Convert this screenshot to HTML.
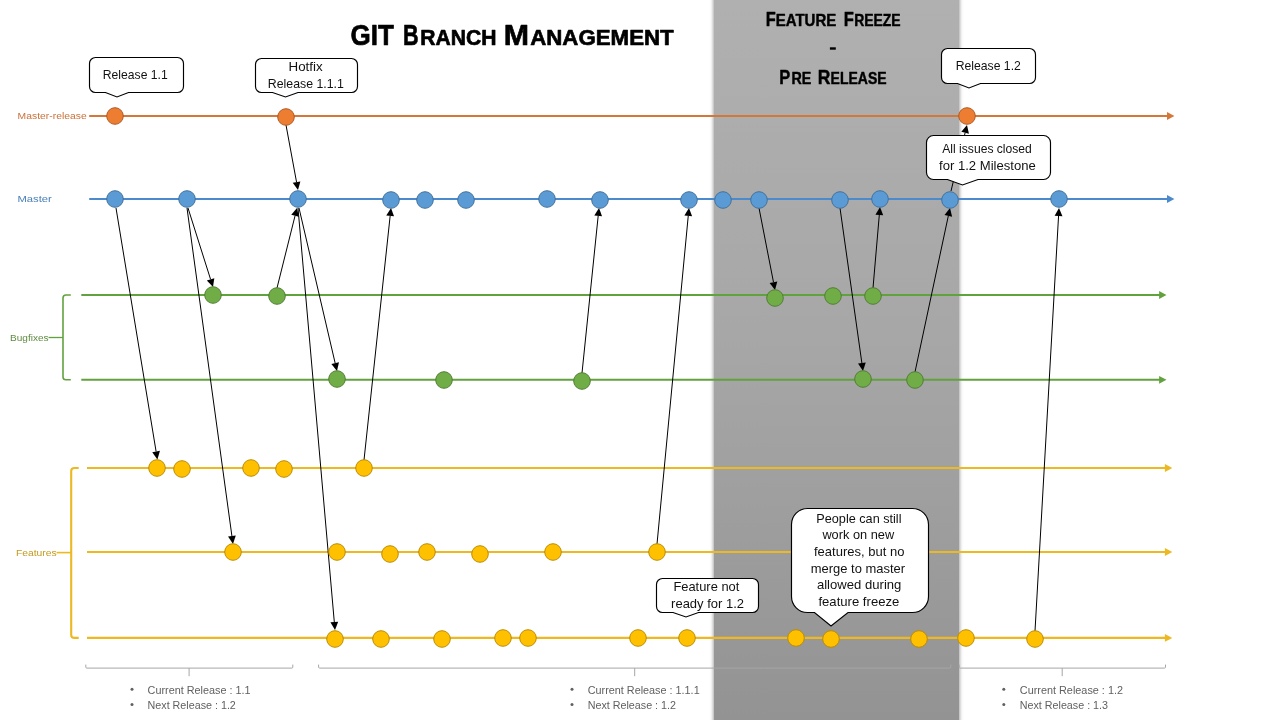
<!DOCTYPE html>
<html lang="en">
<head>
<meta charset="utf-8">
<title>GIT Branch Management</title>
<style>
html,body{margin:0;padding:0;background:#fff;}
body{width:1280px;height:720px;overflow:hidden;position:relative;font-family:"Liberation Sans",sans-serif;}
#band{position:absolute;left:713.6px;top:-10px;width:245.6px;height:740px;
  background:linear-gradient(to bottom,#b0b0b0 1.35%,#a7a7a7 46.6%,#9e9e9e 71%,#939393 98.65%);
  box-shadow:0 0 3px 0.6px rgba(110,110,110,0.6);}
svg{position:absolute;left:0;top:0;will-change:transform;}
text{font-family:"Liberation Sans",sans-serif;}
</style>
</head>
<body>
<div id="band"></div>
<svg width="1280" height="720" viewBox="0 0 1280 720">

<g id="title" fill="#000">
<text transform="translate(350.49,44.9) scale(0.8713,1)" font-size="29.849999999999998" font-weight="bold" stroke="#000" stroke-width="0.7" stroke-linejoin="round">GIT</text>
<text transform="translate(402.90,44.9) scale(0.7233,1)" font-size="29.849999999999998" font-weight="bold" stroke="#000" stroke-width="0.7" stroke-linejoin="round">B</text>
<text transform="translate(420.31,44.9) scale(0.9271,1)" font-size="22.75" font-weight="bold" stroke="#000" stroke-width="0.7" stroke-linejoin="round">RANCH</text>
<text transform="translate(503.76,44.9) scale(1.0156,1)" font-size="29.849999999999998" font-weight="bold" stroke="#000" stroke-width="0.7" stroke-linejoin="round">M</text>
<text transform="translate(530.19,44.9) scale(0.9794,1)" font-size="22.75" font-weight="bold" stroke="#000" stroke-width="0.7" stroke-linejoin="round">ANAGEMENT</text>
</g>
<g id="ff" fill="#000">
<text transform="translate(765.75,26.0) scale(0.7803,1)" font-size="21.0" font-weight="bold" stroke="#000" stroke-width="0.45" stroke-linejoin="round">F</text>
<text transform="translate(775.67,26.0) scale(0.9442,1)" font-size="15.9" font-weight="bold" stroke="#000" stroke-width="0.45" stroke-linejoin="round">EATURE</text>
<text transform="translate(843.64,26.0) scale(0.7891,1)" font-size="21.0" font-weight="bold" stroke="#000" stroke-width="0.45" stroke-linejoin="round">F</text>
<text transform="translate(854.13,26.0) scale(0.8780,1)" font-size="15.9" font-weight="bold" stroke="#000" stroke-width="0.45" stroke-linejoin="round">REEZE</text>
<text transform="translate(779.34,83.7) scale(0.7863,1)" font-size="21.0" font-weight="bold" stroke="#000" stroke-width="0.45" stroke-linejoin="round">P</text>
<text transform="translate(791.51,83.7) scale(0.8994,1)" font-size="15.9" font-weight="bold" stroke="#000" stroke-width="0.45" stroke-linejoin="round">RE</text>
<text transform="translate(817.69,83.7) scale(0.8343,1)" font-size="21.0" font-weight="bold" stroke="#000" stroke-width="0.45" stroke-linejoin="round">R</text>
<text transform="translate(830.62,83.7) scale(0.8795,1)" font-size="15.9" font-weight="bold" stroke="#000" stroke-width="0.45" stroke-linejoin="round">ELEASE</text>
<rect x="829.9" y="47.3" width="5.9" height="2.4" fill="#000"/>
</g>
<g id="branches">
<line x1="89.2" y1="116.0" x2="1168.4" y2="116.0" stroke="#D47839" stroke-width="2.0"/>
<polygon points="1174.4,116.0 1167.0,112.1 1167.0,119.9" fill="#D47839"/>
<line x1="89.2" y1="199.0" x2="1168.4" y2="199.0" stroke="#4B8ACC" stroke-width="2.0"/>
<polygon points="1174.4,199.0 1167.0,195.1 1167.0,202.9" fill="#4B8ACC"/>
<line x1="81.3" y1="295.0" x2="1160.5" y2="295.0" stroke="#62A23E" stroke-width="2.0"/>
<polygon points="1166.5,295.0 1159.1,291.1 1159.1,298.9" fill="#62A23E"/>
<line x1="81.3" y1="379.8" x2="1160.5" y2="379.8" stroke="#62A23E" stroke-width="2.0"/>
<polygon points="1166.5,379.8 1159.1,375.9 1159.1,383.7" fill="#62A23E"/>
<line x1="87.0" y1="468.0" x2="1166.3" y2="468.0" stroke="#EDB922" stroke-width="2.1"/>
<polygon points="1172.3,468.0 1164.9,464.1 1164.9,471.9" fill="#EDB922"/>
<line x1="87.0" y1="552.0" x2="1166.3" y2="552.0" stroke="#EDB922" stroke-width="2.1"/>
<polygon points="1172.3,552.0 1164.9,548.1 1164.9,555.9" fill="#EDB922"/>
<line x1="87.0" y1="637.9" x2="1166.3" y2="637.9" stroke="#EDB922" stroke-width="2.1"/>
<polygon points="1172.3,637.9 1164.9,634.0 1164.9,641.8" fill="#EDB922"/>
</g>
<g id="brackets" fill="none">
<path d="M70.8,295 H66 Q63,295 63,298 V377 Q63,379.8 66,379.8 H70.8" stroke="#62A23E" stroke-width="1.6"/>
<path d="M63,337.5 H48.5" stroke="#62A23E" stroke-width="1.3"/>
<path d="M78.7,468 H74.5 Q71.2,468 71.2,471 V635 Q71.2,637.9 74.5,637.9 H78.7" stroke="#EDB922" stroke-width="2.1"/>
<path d="M71.2,552.6 H56.6" stroke="#EDB922" stroke-width="1.6"/>
</g>
<g id="labels">
<text transform="translate(17.59,118.85) scale(1.0577,1)" font-size="9.8" fill="#C8713A">Master-release</text>
<text transform="translate(17.52,201.7) scale(1.1463,1)" font-size="9.8" fill="#4A80BA">Master</text>
<text transform="translate(10.01,340.9) scale(1.0270,1)" font-size="9.8" fill="#5E8C40">Bugfixes</text>
<text transform="translate(15.89,555.9) scale(1.0558,1)" font-size="9.8" fill="#C29A1E">Features</text>
</g>
<g id="bbr" fill="none" stroke="#A6A6A6" stroke-width="1">
<path d="M85.8,664.6 V667.1 Q85.8,668.1 86.8,668.1 H291.8 Q292.8,668.1 292.8,667.1 V664.6 M189.1,668.1 V676.2"/>
<path d="M318.6,664.6 V667.1 Q318.6,668.1 319.6,668.1 H949.8 Q950.8,668.1 950.8,667.1 V664.6 M634.7,668.1 V676.2"/>
<path d="M959.2,664.6 V667.1 Q959.2,668.1 960.2,668.1 H1164.5 Q1165.5,668.1 1165.5,667.1 V664.6 M1062.2,668.1 V676.2"/>
</g>
<g id="btext" fill="#606060">
<text transform="translate(147.59,693.6) scale(0.9856,1)" font-size="11">Current Release : 1.1</text>
<text transform="translate(147.56,708.9) scale(0.9766,1)" font-size="11">Next Release : 1.2</text>
<text transform="translate(587.69,693.6) scale(0.9861,1)" font-size="11">Current Release : 1.1.1</text>
<text transform="translate(587.66,708.9) scale(0.9777,1)" font-size="11">Next Release : 1.2</text>
<text transform="translate(1019.79,693.6) scale(0.9885,1)" font-size="11">Current Release : 1.2</text>
<text transform="translate(1019.76,708.9) scale(0.9766,1)" font-size="11">Next Release : 1.3</text>
<circle cx="132" cy="689.3" r="1.5"/><circle cx="132" cy="704.6" r="1.5"/>
<circle cx="572" cy="689.3" r="1.5"/><circle cx="572" cy="704.6" r="1.5"/>
<circle cx="1003.8" cy="689.3" r="1.5"/><circle cx="1003.8" cy="704.6" r="1.5"/>
</g>
<g id="arrows">
<line x1="286" y1="125" x2="296.55" y2="182.13" stroke="#000" stroke-width="1.0"/><polygon points="298.00,190.00 292.71,182.84 300.38,181.42" fill="#000"/>
<line x1="116" y1="208" x2="156.10" y2="451.51" stroke="#000" stroke-width="1.0"/><polygon points="157.40,459.40 152.25,452.14 159.95,450.87" fill="#000"/>
<line x1="188" y1="208" x2="210.59" y2="279.37" stroke="#000" stroke-width="1.0"/><polygon points="213.00,287.00 206.87,280.55 214.30,278.20" fill="#000"/>
<line x1="187" y1="208" x2="231.91" y2="536.07" stroke="#000" stroke-width="1.0"/><polygon points="233.00,544.00 228.05,536.60 235.78,535.54" fill="#000"/>
<line x1="277" y1="288" x2="295.06" y2="215.76" stroke="#000" stroke-width="1.0"/><polygon points="297.00,208.00 298.84,216.71 291.28,214.82" fill="#000"/>
<line x1="299" y1="208" x2="335.18" y2="363.21" stroke="#000" stroke-width="1.0"/><polygon points="337.00,371.00 331.39,364.09 338.98,362.32" fill="#000"/>
<line x1="298" y1="208" x2="334.30" y2="622.03" stroke="#000" stroke-width="1.0"/><polygon points="335.00,630.00 330.42,622.37 338.19,621.69" fill="#000"/>
<line x1="364" y1="460" x2="390.15" y2="215.95" stroke="#000" stroke-width="1.0"/><polygon points="391.00,208.00 394.03,216.37 386.27,215.54" fill="#000"/>
<line x1="582" y1="373" x2="598.18" y2="215.96" stroke="#000" stroke-width="1.0"/><polygon points="599.00,208.00 602.06,216.36 594.30,215.56" fill="#000"/>
<line x1="657" y1="544" x2="688.24" y2="215.96" stroke="#000" stroke-width="1.0"/><polygon points="689.00,208.00 692.12,216.33 684.36,215.59" fill="#000"/>
<line x1="759" y1="208" x2="773.47" y2="282.15" stroke="#000" stroke-width="1.0"/><polygon points="775.00,290.00 769.64,282.89 777.30,281.40" fill="#000"/>
<line x1="840" y1="208" x2="861.88" y2="363.08" stroke="#000" stroke-width="1.0"/><polygon points="863.00,371.00 858.02,363.62 865.74,362.53" fill="#000"/>
<line x1="873" y1="288" x2="879.31" y2="214.97" stroke="#000" stroke-width="1.0"/><polygon points="880.00,207.00 883.20,215.31 875.43,214.63" fill="#000"/>
<line x1="915" y1="372" x2="948.33" y2="215.82" stroke="#000" stroke-width="1.0"/><polygon points="950.00,208.00 952.14,216.64 944.52,215.01" fill="#000"/>
<line x1="951" y1="191" x2="965.12" y2="132.77" stroke="#000" stroke-width="1.0"/><polygon points="967.00,125.00 968.91,133.69 961.32,131.86" fill="#000"/>
<line x1="1035" y1="631" x2="1058.55" y2="215.99" stroke="#000" stroke-width="1.0"/><polygon points="1059.00,208.00 1062.44,216.21 1054.65,215.77" fill="#000"/>
</g>
<g id="circles" stroke-width="1">
<circle cx="115" cy="116" r="8.3" fill="#ED7D31" stroke="#AE5A21"/>
<circle cx="286" cy="117" r="8.3" fill="#ED7D31" stroke="#AE5A21"/>
<circle cx="967" cy="116" r="8.3" fill="#ED7D31" stroke="#AE5A21"/>
<circle cx="115" cy="199" r="8.3" fill="#5B9BD5" stroke="#41719C"/>
<circle cx="187" cy="199" r="8.3" fill="#5B9BD5" stroke="#41719C"/>
<circle cx="298" cy="199" r="8.3" fill="#5B9BD5" stroke="#41719C"/>
<circle cx="391" cy="200" r="8.3" fill="#5B9BD5" stroke="#41719C"/>
<circle cx="425" cy="200" r="8.3" fill="#5B9BD5" stroke="#41719C"/>
<circle cx="466" cy="200" r="8.3" fill="#5B9BD5" stroke="#41719C"/>
<circle cx="547" cy="199" r="8.3" fill="#5B9BD5" stroke="#41719C"/>
<circle cx="600" cy="200" r="8.3" fill="#5B9BD5" stroke="#41719C"/>
<circle cx="689" cy="200" r="8.3" fill="#5B9BD5" stroke="#41719C"/>
<circle cx="723" cy="200" r="8.3" fill="#5B9BD5" stroke="#41719C"/>
<circle cx="759" cy="200" r="8.3" fill="#5B9BD5" stroke="#41719C"/>
<circle cx="840" cy="200" r="8.3" fill="#5B9BD5" stroke="#41719C"/>
<circle cx="880" cy="199" r="8.3" fill="#5B9BD5" stroke="#41719C"/>
<circle cx="950" cy="200" r="8.3" fill="#5B9BD5" stroke="#41719C"/>
<circle cx="1059" cy="199" r="8.3" fill="#5B9BD5" stroke="#41719C"/>
<circle cx="213" cy="295" r="8.3" fill="#70AD47" stroke="#507E32"/>
<circle cx="277" cy="296" r="8.3" fill="#70AD47" stroke="#507E32"/>
<circle cx="775" cy="298" r="8.3" fill="#70AD47" stroke="#507E32"/>
<circle cx="833" cy="296" r="8.3" fill="#70AD47" stroke="#507E32"/>
<circle cx="873" cy="296" r="8.3" fill="#70AD47" stroke="#507E32"/>
<circle cx="337" cy="379" r="8.3" fill="#70AD47" stroke="#507E32"/>
<circle cx="444" cy="380" r="8.3" fill="#70AD47" stroke="#507E32"/>
<circle cx="582" cy="381" r="8.3" fill="#70AD47" stroke="#507E32"/>
<circle cx="863" cy="379" r="8.3" fill="#70AD47" stroke="#507E32"/>
<circle cx="915" cy="380" r="8.3" fill="#70AD47" stroke="#507E32"/>
<circle cx="157" cy="468" r="8.3" fill="#FFC000" stroke="#BC8C00"/>
<circle cx="182" cy="469" r="8.3" fill="#FFC000" stroke="#BC8C00"/>
<circle cx="251" cy="468" r="8.3" fill="#FFC000" stroke="#BC8C00"/>
<circle cx="284" cy="469" r="8.3" fill="#FFC000" stroke="#BC8C00"/>
<circle cx="364" cy="468" r="8.3" fill="#FFC000" stroke="#BC8C00"/>
<circle cx="233" cy="552" r="8.3" fill="#FFC000" stroke="#BC8C00"/>
<circle cx="337" cy="552" r="8.3" fill="#FFC000" stroke="#BC8C00"/>
<circle cx="390" cy="554" r="8.3" fill="#FFC000" stroke="#BC8C00"/>
<circle cx="427" cy="552" r="8.3" fill="#FFC000" stroke="#BC8C00"/>
<circle cx="480" cy="554" r="8.3" fill="#FFC000" stroke="#BC8C00"/>
<circle cx="553" cy="552" r="8.3" fill="#FFC000" stroke="#BC8C00"/>
<circle cx="657" cy="552" r="8.3" fill="#FFC000" stroke="#BC8C00"/>
<circle cx="335" cy="639" r="8.3" fill="#FFC000" stroke="#BC8C00"/>
<circle cx="381" cy="639" r="8.3" fill="#FFC000" stroke="#BC8C00"/>
<circle cx="442" cy="639" r="8.3" fill="#FFC000" stroke="#BC8C00"/>
<circle cx="503" cy="638" r="8.3" fill="#FFC000" stroke="#BC8C00"/>
<circle cx="528" cy="638" r="8.3" fill="#FFC000" stroke="#BC8C00"/>
<circle cx="638" cy="638" r="8.3" fill="#FFC000" stroke="#BC8C00"/>
<circle cx="687" cy="638" r="8.3" fill="#FFC000" stroke="#BC8C00"/>
<circle cx="796" cy="638" r="8.3" fill="#FFC000" stroke="#BC8C00"/>
<circle cx="831" cy="639" r="8.3" fill="#FFC000" stroke="#BC8C00"/>
<circle cx="919" cy="639" r="8.3" fill="#FFC000" stroke="#BC8C00"/>
<circle cx="966" cy="638" r="8.3" fill="#FFC000" stroke="#BC8C00"/>
<circle cx="1035" cy="639" r="8.3" fill="#FFC000" stroke="#BC8C00"/>
</g>
<g id="callouts" fill="#fff" stroke="#000" stroke-width="1.15" stroke-linejoin="miter">
<path d="M95.5,57.5 H177.5 A6,6 0 0 1 183.5,63.5 V86.5 A6,6 0 0 1 177.5,92.5 H128.5 L117,97 L105.5,92.5 H95.5 A6,6 0 0 1 89.5,86.5 V63.5 A6,6 0 0 1 95.5,57.5 Z"/>
<path d="M261.5,58.5 H351.5 A6,6 0 0 1 357.5,64.5 V86.5 A6,6 0 0 1 351.5,92.5 H298 L285.5,97 L272.5,92.5 H261.5 A6,6 0 0 1 255.5,86.5 V64.5 A6,6 0 0 1 261.5,58.5 Z"/>
<path d="M947.5,48.5 H1029.5 A6,6 0 0 1 1035.5,54.5 V77.5 A6,6 0 0 1 1029.5,83.5 H980.5 L969,88 L957.5,83.5 H947.5 A6,6 0 0 1 941.5,77.5 V54.5 A6,6 0 0 1 947.5,48.5 Z"/>
<path d="M933.5,135.5 H1043.5 A7,7 0 0 1 1050.5,142.5 V172.5 A7,7 0 0 1 1043.5,179.5 H978 L962.5,185 L947.5,179.5 H933.5 A7,7 0 0 1 926.5,172.5 V142.5 A7,7 0 0 1 933.5,135.5 Z"/>
<path d="M662.5,578.5 H752.5 A6,6 0 0 1 758.5,584.5 V606.5 A6,6 0 0 1 752.5,612.5 H698.5 L686,617 L673,612.5 H662.5 A6,6 0 0 1 656.5,606.5 V584.5 A6,6 0 0 1 662.5,578.5 Z"/>
<path d="M807.5,508.5 H912.5 A16,16 0 0 1 928.5,524.5 V596.5 A16,16 0 0 1 912.5,612.5 H848 L831,626 L814.5,612.5 H807.5 A16,16 0 0 1 791.5,596.5 V524.5 A16,16 0 0 1 807.5,508.5 Z"/>
</g>
<g id="ctext" fill="#111">
<text transform="translate(102.80,79) scale(0.9361,1)" font-size="13">Release 1.1</text>
<text transform="translate(288.56,70.6) scale(1.0275,1)" font-size="13">Hotfix</text>
<text transform="translate(267.79,87.75) scale(0.9501,1)" font-size="13">Release 1.1.1</text>
<text transform="translate(955.64,69.75) scale(0.9405,1)" font-size="13">Release 1.2</text>
<text transform="translate(942.25,152.75) scale(0.9332,1)" font-size="13">All issues closed</text>
<text transform="translate(939.00,169.6) scale(1.0086,1)" font-size="13">for 1.2 Milestone</text>
<text transform="translate(673.39,590.6) scale(0.9922,1)" font-size="13">Feature not</text>
<text transform="translate(671.09,607.75) scale(0.9994,1)" font-size="13">ready for 1.2</text>
<text transform="translate(816.31,522.8) scale(0.9747,1)" font-size="13">People can still</text>
<text transform="translate(822.40,539.4) scale(0.9844,1)" font-size="13">work on new</text>
<text transform="translate(814.00,556.1) scale(1.0021,1)" font-size="13">features, but no</text>
<text transform="translate(810.79,573.4) scale(0.9971,1)" font-size="13">merge to master</text>
<text transform="translate(816.89,589.4) scale(1.0085,1)" font-size="13">allowed during</text>
<text transform="translate(818.40,606.1) scale(1.0102,1)" font-size="13">feature freeze</text>
</g>
</svg>
</body>
</html>
